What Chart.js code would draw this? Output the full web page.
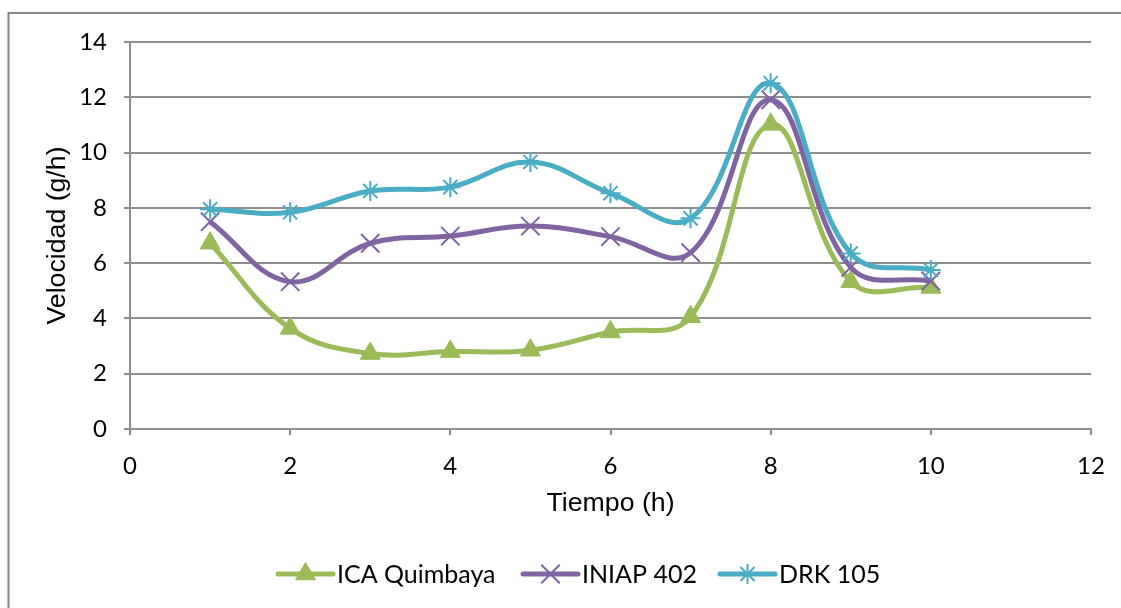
<!DOCTYPE html>
<html>
<head>
<meta charset="utf-8">
<title>Velocidad</title>
<script src="https://cdn.jsdelivr.net/npm/chart.js@4/dist/chart.umd.min.js"></script>
<style>
  html, body { margin: 0; padding: 0; background: #fff; }
  #wrap { width: 1121px; height: 608px; }
</style>
</head>
<body>
<div id="wrap"><canvas id="c" width="1121" height="608"></canvas></div>
<script>
// Tiempo (h)
const times = [1, 2, 3, 4, 5, 6, 7, 8, 9, 10];
// Velocidad (g/h) per variety
const icaQuimbaya = [6.72, 3.64, 2.73, 2.80, 2.85, 3.51, 4.06, 11.02, 5.33, 5.12];
const iniap402    = [7.50, 5.33, 6.72, 6.98, 7.34, 6.96, 6.38, 11.91, 5.85, 5.35];
const drk105      = [7.95, 7.84, 8.61, 8.75, 9.66, 8.53, 7.62, 12.51, 6.35, 5.75];

const seriesNames = ['ICA Quimbaya', 'INIAP 402', 'DRK 105'];
const xTicks = [0, 2, 4, 6, 8, 10, 12];
const yTicks = [0, 2, 4, 6, 8, 10, 12, 14];

const GREEN = '#9BBB59', PURPLE = '#8064A2', BLUE = '#4BACC6';
const GRID = '#8e8e8e';
const TICK_FONT = { family: 'Lato, "Open Sans", sans-serif', size: 24 };
const LEGEND_FONT = { family: 'Lato, "Open Sans", sans-serif', size: 25 };
const TITLE_FONT = { family: '"Liberation Sans", Arial, sans-serif', size: 26.7, lineHeight: 1.2 };

const toPts = vals => vals.map((v, i) => ({ x: times[i], y: v }));

const styles = [
  { color: GREEN,  pointStyle: 'triangle', radius: 11.5, bw: 1 },
  { color: PURPLE, pointStyle: 'crossRot', radius: 13, bw: 2 },
  { color: BLUE,   pointStyle: 'star',     radius: 10, bw: 2 }
];

const datasets = [icaQuimbaya, iniap402, drk105].map((vals, i) => ({
  label: seriesNames[i],
  data: toPts(vals),
  borderColor: styles[i].color,
  backgroundColor: styles[i].color,
  borderWidth: 5,
  tension: 0.4,
  pointStyle: styles[i].pointStyle,
  pointRadius: styles[i].radius,
  pointBorderWidth: styles[i].bw,
  pointBackgroundColor: styles[i].color,
  pointBorderColor: styles[i].color,
  order: 3 - i
}));

// Outer frame of the chart object
const framePlugin = {
  id: 'frame',
  beforeDraw(chart) {
    const ctx = chart.ctx;
    ctx.save();
    ctx.fillStyle = '#ffffff';
    ctx.fillRect(0, 0, chart.width, chart.height);
    ctx.strokeStyle = '#888888';
    ctx.lineWidth = 2;
    ctx.beginPath();
    ctx.moveTo(8.5, chart.height + 5);
    ctx.lineTo(8.5, 13);
    ctx.lineTo(chart.width + 5, 13);
    ctx.stroke();
    ctx.restore();
  }
};

// Legend below the axis: line sample with marker, then the series name
const legendStarts = [278, 523, 720];
const legendPlugin = {
  id: 'lineLegend',
  afterDraw(chart) {
    const ctx = chart.ctx;
    const lineLen = 55, textGap = 4, cy = 574;
    ctx.save();
    ctx.font = `${LEGEND_FONT.size}px ${LEGEND_FONT.family}`;
    seriesNames.forEach((name, i) => {
      const st = styles[i];
      const x = legendStarts[i];
      ctx.strokeStyle = st.color;
      ctx.fillStyle = st.color;
      ctx.lineWidth = 5;
      ctx.lineCap = 'round';
      ctx.beginPath();
      ctx.moveTo(x, cy);
      ctx.lineTo(x + lineLen, cy);
      ctx.stroke();
      ctx.lineCap = 'butt';
      ctx.lineWidth = st.bw;
      if (Chart.helpers && Chart.helpers.drawPoint) {
        Chart.helpers.drawPoint(ctx, { pointStyle: st.pointStyle, radius: st.radius, borderWidth: st.bw, rotation: 0 }, x + lineLen / 2, cy);
      }
      ctx.fillStyle = '#000000';
      ctx.textAlign = 'left';
      ctx.textBaseline = 'alphabetic';
      ctx.fillText(name, x + lineLen + textGap, 583);
    });
    ctx.restore();
  }
};

new Chart(document.getElementById('c'), {
  type: 'line',
  data: { datasets },
  options: {
    responsive: false,
    animation: false,
    devicePixelRatio: 1,
    layout: { padding: { top: 42, right: 30, bottom: 0, left: 0 } },
    plugins: { legend: { display: false }, tooltip: { enabled: false } },
    scales: {
      x: {
        type: 'linear',
        min: xTicks[0],
        max: xTicks[xTicks.length - 1],
        afterBuildTicks(scale) { scale.ticks = xTicks.map(v => ({ value: v })); },
        afterFit(scale) { scale.height = 179; scale.paddingLeft = 0; scale.paddingRight = 0; },
        ticks: { color: '#000', font: TICK_FONT, padding: 17, maxRotation: 0, autoSkip: false },
        grid: { drawOnChartArea: false, drawTicks: true, tickLength: 6, color: GRID, lineWidth: 2 },
        border: { color: GRID, width: 2 },
        title: { display: true, text: 'Tiempo (h)', color: '#000', font: TITLE_FONT, padding: { top: 0, bottom: 88 } }
      },
      y: {
        min: yTicks[0],
        max: yTicks[yTicks.length - 1],
        afterBuildTicks(scale) { scale.ticks = yTicks.map(v => ({ value: v })); },
        afterFit(scale) { scale.width = 130; scale.paddingTop = 0; scale.paddingBottom = 0; },
        ticks: { color: '#000', font: TICK_FONT, padding: 17 },
        grid: { color: GRID, lineWidth: 2, tickLength: 6 },
        border: { color: GRID, width: 2 },
        title: { display: true, text: 'Velocidad (g/h)', color: '#000', font: TITLE_FONT, padding: { top: 42, bottom: 0 } }
      }
    }
  },
  plugins: [framePlugin, legendPlugin]
});
</script>
</body>
</html>
